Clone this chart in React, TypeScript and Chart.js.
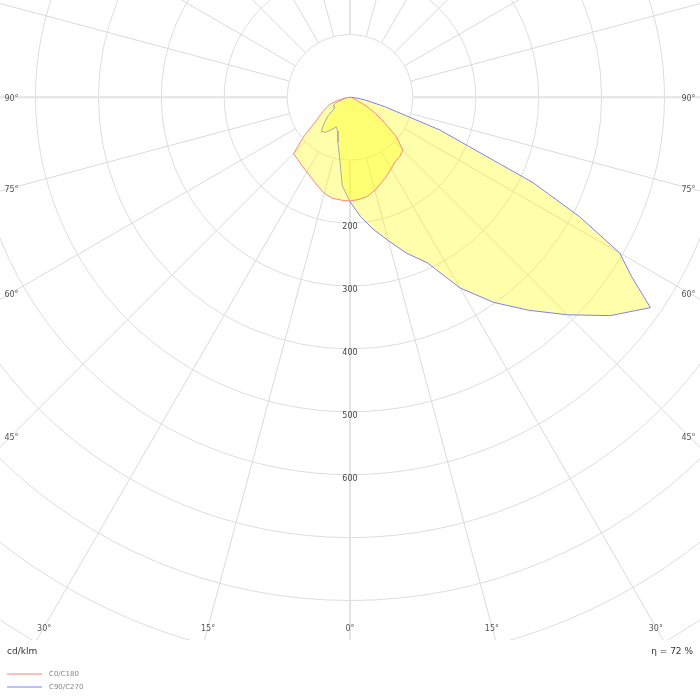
import { useEffect, useRef } from 'react';
import { Chart, registerables } from 'chart.js';

Chart.register(...registerables);

// gamma angles (deg from nadir) and intensities in cd/klm
const GAMMA = [0, 5, 10, 15, 20, 25, 30, 35, 40, 45, 50, 55, 57.5, 60, 62.5, 65, 67.5, 70, 75, 80, 85, 90];
const C0 = [165, 163, 160, 153, 145, 138, 131, 125, 123, 119, 95, 61, 48, 36, 25, 12, 8, 6, 3, 1, 0, 0];
const C180 = [165, 164, 163, 158, 150, 143, 137, 133, 129, 127, 95, 66, 59, 53, 48, 43, 39, 35, 22, 9, 4, 0];
const C90 = [166, 190, 213, 236, 264, 290, 350, 398, 442, 489, 540, 583, 531, 495, 412, 321, 206, 152, 57, 24, 8, 0];
const C270 = [166, 141, 96, 74, 57, 52, 60, 68, 71, 58, 45, 31, 29, 29, 29, 29, 25, 20, 12, 7, 3, 0];

const RINGS = [100, 200, 300, 400, 500, 600, 700, 800, 900, 1000, 1100, 1200];
const RING_LABELS = [200, 300, 400, 500, 600];
const ANGLE_LABELS = [0, 15, 30, 45, 60, 75, 90];
const SPOKE_STEP = 15;
const UNIT = 'cd/klm';
const ETA = 72;

const FONT = '"DejaVu Sans", Verdana, sans-serif';

// build a closed outline: left half (90 -> 0) then right half (0 -> 90)
function outline(left: number[], right: number[]) {
  const pts: { x: number; y: number }[] = [];
  for (let i = GAMMA.length - 1; i >= 0; i--) {
    const a = (GAMMA[i] * Math.PI) / 180;
    pts.push({ x: -left[i] * Math.sin(a), y: -left[i] * Math.cos(a) });
  }
  for (let i = 1; i < GAMMA.length; i++) {
    const a = (GAMMA[i] * Math.PI) / 180;
    pts.push({ x: right[i] * Math.sin(a), y: -right[i] * Math.cos(a) });
  }
  pts.push({ ...pts[0] });
  return pts;
}

const polarGrid = {
  id: 'polarGrid',
  beforeDatasetsDraw(chart: any) {
    const { ctx, chartArea: area, scales } = chart;
    const cx = scales.x.getPixelForValue(0);
    const cy = scales.y.getPixelForValue(0);
    const k = scales.x.getPixelForValue(1) - cx;
    ctx.save();
    ctx.beginPath();
    ctx.rect(area.left, area.top, area.right - area.left, area.bottom - area.top);
    ctx.clip();
    ctx.strokeStyle = '#dddddd';
    ctx.lineWidth = 1;
    RINGS.forEach((r) => {
      ctx.beginPath();
      ctx.arc(cx, cy, r * k, 0, Math.PI * 2);
      ctx.stroke();
    });
    for (let g = 0; g < 360; g += SPOKE_STEP) {
      const a = (g * Math.PI) / 180;
      const main = g % 90 === 0;
      ctx.strokeStyle = main ? '#e3e3e3' : '#dadada';
      ctx.lineWidth = main ? 2 : 1;
      ctx.beginPath();
      ctx.moveTo(cx + Math.sin(a) * RINGS[0] * k, cy + Math.cos(a) * RINGS[0] * k);
      ctx.lineTo(cx + Math.sin(a) * 2000 * k, cy + Math.cos(a) * 2000 * k);
      ctx.stroke();
    }
    ctx.restore();
  },
  afterDatasetsDraw(chart: any) {
    const { ctx, chartArea: area, scales } = chart;
    const cx = scales.x.getPixelForValue(0);
    const cy = scales.y.getPixelForValue(0);
    const k = scales.x.getPixelForValue(1) - cx;
    ctx.save();
    ctx.font = `8px ${FONT}`;
    ctx.textAlign = 'center';
    ctx.textBaseline = 'middle';

    // angle labels where the spokes meet the (inset) border
    ctx.fillStyle = '#555555';
    const inset = 11.5;
    ANGLE_LABELS.forEach((g) => {
      const sides = g === 0 ? [1] : [-1, 1];
      sides.forEach((side) => {
        const a = (g * Math.PI) / 180;
        const dx = side * Math.sin(a);
        const dy = Math.cos(a);
        let t = Infinity;
        if (dx > 1e-6) t = Math.min(t, (area.right - inset - cx) / dx);
        if (dx < -1e-6) t = Math.min(t, (area.left + inset - cx) / dx);
        if (dy > 1e-6) t = Math.min(t, (area.bottom - 13 - cy) / dy);
        ctx.fillText(`${g}°`, cx + dx * t, cy + dy * t + 2);
      });
    });

    // intensity labels along the 0° line
    ctx.fillStyle = '#444444';
    RING_LABELS.forEach((v) => {
      ctx.fillText(String(v), cx, cy + v * k + 4);
    });

    // footer
    ctx.font = `9px ${FONT}`;
    ctx.fillStyle = '#333333';
    ctx.textAlign = 'left';
    ctx.fillText(UNIT, 7, 652);
    ctx.textAlign = 'right';
    ctx.fillText(`η = ${ETA} %`, 693, 652);

    ctx.font = `7px ${FONT}`;
    ctx.textAlign = 'left';
    chart.data.datasets.forEach((ds: any, i: number) => {
      const y = 674 + i * 13;
      ctx.strokeStyle = ds.legendColor;
      ctx.lineWidth = 2;
      ctx.beginPath();
      ctx.moveTo(7, y);
      ctx.lineTo(42, y);
      ctx.stroke();
      ctx.fillStyle = '#888888';
      ctx.fillText(ds.label, 49, y + 0.5);
    });
    ctx.restore();
  },
};

export default function App() {
  const chartRef = useRef<HTMLCanvasElement>(null);
  const chartInstance = useRef<Chart | null>(null);

  useEffect(() => {
    if (!chartRef.current) return;
    const ctx = chartRef.current.getContext('2d');
    if (!ctx) return;

    if (chartInstance.current) {
      chartInstance.current.destroy();
    }

    // window: centre at (350, 97.3), 0.629 px per cd/klm, plot area 700 x 640
    const k = 0.629;
    chartInstance.current = new Chart(ctx, {
      type: 'scatter',
      data: {
        datasets: [
          {
            label: 'C0/C180',
            data: outline(C180, C0),
            showLine: true,
            borderColor: 'rgb(255, 130, 130)',
            borderWidth: 1,
            backgroundColor: 'rgba(255, 255, 0, 0.33)',
            fill: 'shape',
            pointRadius: 0,
            tension: 0,
            legendColor: 'rgb(255, 190, 190)',
          } as any,
          {
            label: 'C90/C270',
            data: outline(C270, C90),
            showLine: true,
            borderColor: 'rgb(128, 128, 240)',
            borderWidth: 1,
            backgroundColor: 'rgba(255, 255, 0, 0.33)',
            fill: 'shape',
            pointRadius: 0,
            tension: 0,
            legendColor: 'rgb(190, 190, 255)',
          } as any,
        ],
      },
      options: {
        responsive: false,
        maintainAspectRatio: false,
        animation: false,
        layout: { padding: { left: 0, right: 0, top: 0, bottom: 60 } },
        scales: {
          x: { type: 'linear', display: false, min: -350 / k, max: 350 / k },
          y: { type: 'linear', display: false, min: -(640 - 97.3) / k, max: 97.3 / k },
        },
        plugins: {
          legend: { display: false },
          tooltip: { enabled: false },
        },
      },
      plugins: [polarGrid],
    });

    return () => {
      if (chartInstance.current) {
        chartInstance.current.destroy();
        chartInstance.current = null;
      }
    };
  }, []);

  return (
    <div style={{ position: 'fixed', left: 0, top: 0, width: 700, height: 700, background: '#fff' }}>
      <canvas ref={chartRef} width={700} height={700} style={{ display: 'block' }}></canvas>
    </div>
  );
}
